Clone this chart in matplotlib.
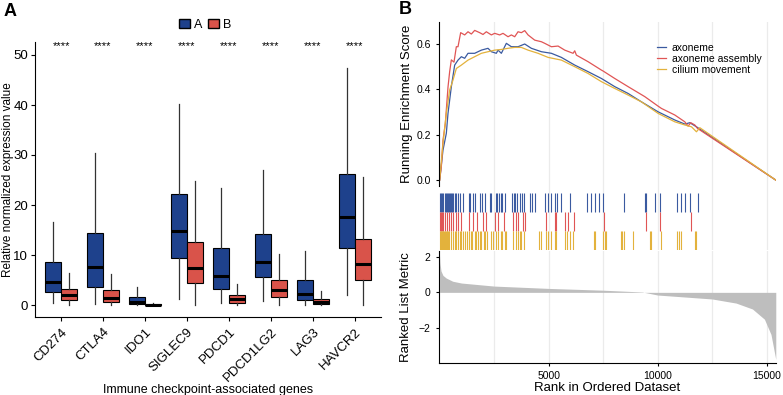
import matplotlib.pyplot as plt
import numpy as np
from matplotlib.patches import Patch

plt.rcParams['font.family'] = ['Liberation Sans', 'DejaVu Sans']

# ---- panel A data (box stats) ----
genes = ['CD274', 'CTLA4', 'IDO1', 'SIGLEC9', 'PDCD1', 'PDCD1LG2', 'LAG3', 'HAVCR2']
# whislo, q1, med, q3, whishi
a_stats = [
    [0.5, 2.7, 4.7, 8.7, 16.7],
    [0.3, 3.7, 7.6, 14.5, 30.3],
    [0.0, 0.2, 0.6, 1.7, 3.7],
    [1.3, 9.5, 14.8, 22.1, 40.1],
    [0.4, 3.3, 5.9, 11.5, 23.5],
    [0.9, 5.7, 8.7, 14.2, 26.9],
    [0.0, 1.1, 2.3, 5.0, 10.8],
    [2.1, 11.5, 17.7, 26.2, 47.4],
]
b_stats = [
    [0.0, 1.1, 2.0, 3.3, 6.5],
    [0.0, 0.7, 1.5, 3.1, 6.3],
    [0.0, 0.0, 0.1, 0.3, 0.5],
    [0.0, 4.5, 7.5, 12.7, 24.8],
    [0.0, 0.5, 1.2, 2.1, 4.3],
    [0.0, 1.7, 3.1, 5.1, 10.2],
    [0.0, 0.3, 0.7, 1.3, 2.9],
    [0.0, 5.1, 8.2, 13.2, 25.5],
]
signif = ['****'] * 8

# ---- panel B data ----
red_rank = [0, 77, 153, 260, 383, 459, 536, 658, 765, 842, 964, 1148, 1301, 1454, 1607, 1836,
            1989, 2142, 2372, 2525, 2754, 2907, 3137, 3290, 3443, 3596, 3749, 3902, 4055, 4361,
            4667, 4820, 5126, 5432, 5738, 6120, 6197, 6273, 6809, 7421, 7497, 8033, 8645, 9410,
            10022, 10175, 10787, 11246, 11399, 11521, 11705, 11827, 15420]
red_es = [0, 0.059, 0.176, 0.25, 0.41, 0.478, 0.53, 0.52, 0.588, 0.588, 0.65, 0.64, 0.654, 0.644,
          0.66, 0.65, 0.642, 0.654, 0.64, 0.647, 0.64, 0.647, 0.632, 0.64, 0.632, 0.654, 0.65,
          0.659, 0.64, 0.617, 0.61, 0.603, 0.588, 0.591, 0.573, 0.559, 0.57, 0.551, 0.522, 0.485,
          0.481, 0.448, 0.412, 0.368, 0.326, 0.316, 0.287, 0.257, 0.238, 0.253, 0.243, 0.228, 0.0]
blue_rank = [0, 153, 306, 383, 536, 689, 842, 995, 1148, 1301, 1607, 1913, 2219, 2372, 2601, 2678,
             2831, 3060, 3290, 3596, 3902, 4208, 4667, 5126, 5585, 6197, 6809, 7421, 8033, 8645,
             9257, 10022, 10787, 11246, 11475, 11781, 15420]
blue_es = [0, 0.132, 0.206, 0.294, 0.412, 0.507, 0.529, 0.544, 0.537, 0.559, 0.559, 0.573, 0.581,
           0.566, 0.559, 0.573, 0.559, 0.603, 0.588, 0.588, 0.6, 0.581, 0.566, 0.559, 0.541, 0.507,
           0.478, 0.448, 0.412, 0.382, 0.345, 0.301, 0.265, 0.247, 0.253, 0.235, 0.0]
yel_rank = [0, 153, 306, 459, 612, 765, 995, 1301, 1607, 1913, 2219, 2525, 2831, 3137, 3443, 3749,
            4055, 4514, 4973, 5585, 6197, 6809, 7421, 8033, 8645, 9257, 10022, 10787, 11246,
            11552, 11781, 11934, 15420]
yel_es = [0, 0.162, 0.294, 0.397, 0.441, 0.492, 0.507, 0.529, 0.544, 0.559, 0.566, 0.573, 0.576,
          0.581, 0.585, 0.585, 0.573, 0.559, 0.541, 0.529, 0.5, 0.47, 0.434, 0.404, 0.375, 0.345,
          0.294, 0.257, 0.243, 0.235, 0.213, 0.231, 0.0]

blue_hits = [31, 77, 122, 168, 230, 275, 321, 383, 428, 474, 536, 581, 627, 689, 750, 842, 918,
             1071, 1331, 1392, 1530, 1622, 1867, 1958, 2066, 2295, 2372, 2601, 2647, 2708, 2800,
             2861, 2984, 3320, 3397, 3473, 3565, 3672, 3794, 3871, 4131, 4253, 4391, 4820, 4973,
             5126, 5279, 5386, 5585, 5967, 6778, 6931, 7115, 7298, 7497, 8461, 9440, 9486, 9869,
             10098, 10909, 11062, 11246, 11475, 11858]
red_hits = [31, 77, 122, 168, 230, 321, 428, 536, 627, 750, 842, 995, 1331, 1530, 1729, 1989,
            2142, 2524, 2677, 2953, 3366, 3519, 3596, 3825, 3902, 4896, 5279, 5356, 5769, 5891,
            6166, 7543, 9486, 10098, 11521]
yel_hits = [15, 46, 77, 107, 138, 168, 199, 230, 275, 321, 352, 383, 428, 536, 612, 689, 765,
            842, 918, 995, 1071, 1178, 1270, 1331, 1423, 1484, 1607, 1683, 1760, 1836, 1913, 2035,
            2097, 2188, 2372, 2448, 2601, 2677, 2800, 2861, 2984, 3060, 3366, 3519, 3596, 3672,
            3749, 3871, 4544, 4636, 4896, 4973, 5126, 5279, 5356, 5738, 5860, 5967, 6120, 7084,
            7115, 7497, 7574, 7650, 8308, 8385, 8461, 8875, 9639, 9716, 10175, 10909, 10970,
            11093, 11705, 11781]

metric_rank = [0, 20, 60, 150, 300, 600, 1000, 2500, 5000, 7500, 9300, 10000, 12500, 13600,
               14350, 14900, 15200, 15420]
metric_val = [2.1, 1.6, 1.2, 0.95, 0.8, 0.62, 0.52, 0.35, 0.22, 0.12, 0.02, -0.15, -0.37, -0.6,
              -0.93, -1.5, -2.35, -3.75]

col_a = '#1E418C'
col_b = '#D9534A'
line_cols = ['#3A5AA0', '#E05555', '#E3B23C']
set_names = ['axoneme', 'axoneme assembly', 'cilium movement']

fig = plt.figure(figsize=(7.83, 3.95), dpi=100)
W, H = 783, 395


def rect(l, t, r, b):
    return [l / W, (H - b) / H, (r - l) / W, (b - t) / H]


# ================= panel A =================
ax = fig.add_axes(rect(35, 42, 381, 317))
pos = np.arange(1, len(genes) + 1)


def to_stats(rows):
    return [dict(whislo=r[0], q1=r[1], med=r[2], q3=r[3], whishi=r[4], fliers=[]) for r in rows]


for stats, off, col in [(a_stats, -0.19, col_a), (b_stats, 0.19, col_b)]:
    ax.bxp(to_stats(stats), positions=pos + off, widths=0.36, patch_artist=True,
           showcaps=False, showfliers=False,
           boxprops=dict(facecolor=col, edgecolor='black', linewidth=0.8),
           medianprops=dict(color='black', linewidth=2.2),
           whiskerprops=dict(color='#333333', linewidth=0.9))

for p, s in zip(pos, signif):
    ax.text(p, 51.8, s, ha='center', va='center', fontsize=8)

ax.set_xlim(0.38, 8.62)
ax.set_ylim(-2.4, 52.6)
ax.set_yticks([0, 10, 20, 30, 40, 50])
ax.set_xticks(pos)
ax.set_xticklabels(genes, rotation=45, ha='right', rotation_mode='anchor', fontsize=9.5)
ax.tick_params(axis='y', labelsize=9.5, length=3, pad=2)
ax.tick_params(axis='x', length=3)
for sp in ['top', 'right']:
    ax.spines[sp].set_visible(False)
ax.set_ylabel('Relative normalized expression value', fontsize=8.5)
ax.yaxis.set_label_coords(-0.062, 0.5)
ax.set_xlabel('Immune checkpoint-associated genes', fontsize=9)
ax.xaxis.set_label_coords(0.5, -0.245)

leg_handles = [Patch(facecolor=col_a, edgecolor='black', label='A'),
               Patch(facecolor=col_b, edgecolor='black', label='B')]
fig.legend(handles=leg_handles, loc='center', bbox_to_anchor=(205 / W, 1 - 25 / H), ncol=2,
           frameon=False, fontsize=9, handlelength=0.9, handleheight=0.7,
           handletextpad=0.3, columnspacing=0.5)

fig.text(4 / W, 1 - 11 / H, 'A', fontsize=13, fontweight='bold', va='center')
fig.text(399 / W, 1 - 9 / H, 'B', fontsize=13, fontweight='bold', va='center')

# ================= panel B =================
xlim = (-30, 15430)
grid_x = [2500, 5000, 7500, 10000, 12500, 15000]

ax1 = fig.add_axes(rect(439, 22, 776, 186))
for g in grid_x:
    ax1.axvline(g, color='#EBEBEB', lw=0.9, zorder=0)
for rk, es, c, name in zip([blue_rank, red_rank, yel_rank], [blue_es, red_es, yel_es],
                           line_cols, set_names):
    ax1.plot(rk, es, color=c, lw=0.9, label=name)
ax1.set_xlim(*xlim)
ax1.set_ylim(-0.026, 0.697)
ax1.set_yticks([0.0, 0.2, 0.4, 0.6])
ax1.set_yticklabels(['0.0', '0.2', '0.4', '0.6'])
ax1.set_xticks([])
for sp in ['top', 'right', 'bottom']:
    ax1.spines[sp].set_visible(False)
ax1.tick_params(axis='y', labelsize=7.5, length=2.5)
ax1.set_ylabel('Running Enrichment Score', fontsize=9.5, labelpad=2)
ax1.legend(loc='upper left', bbox_to_anchor=(0.62, 0.93), frameon=False, fontsize=7.5,
           handlelength=0.8, handletextpad=0.6, labelspacing=0.1)

ax2 = fig.add_axes(rect(439, 186, 776, 250))
for g in grid_x:
    ax2.axvline(g, color='#EBEBEB', lw=0.9, zorder=0)
rows = [(blue_hits, line_cols[0], 2), (red_hits, line_cols[1], 1), (yel_hits, line_cols[2], 0)]
for hits, c, i in rows:
    ax2.vlines(hits, i, i + 1, color=c, lw=0.8)
ax2.set_xlim(*xlim)
ax2.set_ylim(0, 3.35)
ax2.axis('off')

ax3 = fig.add_axes(rect(439, 251, 776, 362.7))
for g in grid_x:
    ax3.axvline(g, color='#EBEBEB', lw=0.9, zorder=0)
ax3.fill_between(metric_rank, metric_val, 0, color='#BEBEBE', lw=0)
ax3.set_xlim(*xlim)
ax3.set_ylim(-3.93, 2.31)
ax3.set_yticks([-2, 0, 2])
ax3.set_xticks([5000, 10000, 15000])
for sp in ['top', 'right']:
    ax3.spines[sp].set_visible(False)
ax3.tick_params(labelsize=7.5, length=2.5)
ax3.set_ylabel('Ranked List Metric', fontsize=9.5, labelpad=5)
ax3.set_xlabel('Rank in Ordered Dataset', fontsize=9.5, labelpad=1)

fig.savefig('out.png', dpi=100)
